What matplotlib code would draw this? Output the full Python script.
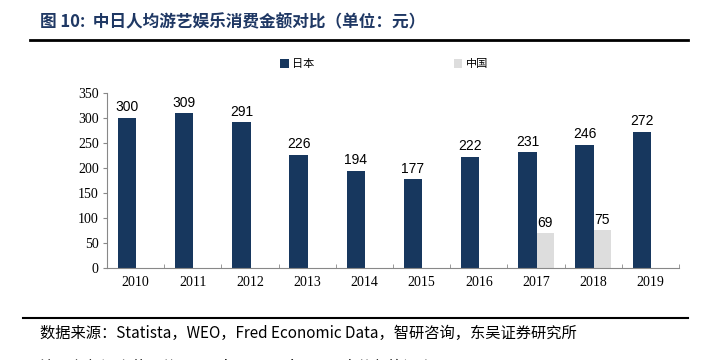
import matplotlib
matplotlib.use("Agg")
import matplotlib.pyplot as plt
import numpy as np

plt.rcParams['font.family'] = ['Noto Sans CJK SC', 'DejaVu Sans']

years = ['2010', '2011', '2012', '2013', '2014', '2015', '2016', '2017', '2018', '2019']
japan = [300, 309, 291, 226, 194, 177, 222, 231, 246, 272]
china = [None, None, None, None, None, None, None, 69, 75, None]

JAPAN_COLOR = '#17375E'
CHINA_COLOR = '#DDDDDD'

fig = plt.figure(figsize=(7.01, 3.6), dpi=100)
ax = fig.add_axes([0.1526, 0.2556, 0.8160, 0.4861])

x = np.arange(len(years))
w = 0.32
ax.bar(x - 0.15, japan, width=w, color=JAPAN_COLOR, label='日本', zorder=2)
cx = [xi for xi, v in zip(x, china) if v is not None]
cv = [v for v in china if v is not None]
ax.bar(np.array(cx) + 0.15, cv, width=w, color=CHINA_COLOR, label='中国', zorder=1)

for xi, v in zip(x, japan):
    ax.text(xi - 0.15, v + 7, str(v), ha='center', va='bottom', fontsize=10,
            family='Liberation Sans', color='black')
for xi, v in zip(cx, cv):
    ax.text(xi + 0.15, v + 7, str(v), ha='center', va='bottom', fontsize=10,
            family='Liberation Sans', color='black')

ax.set_xlim(-0.5, len(years) - 0.5)
ax.set_ylim(0, 350)
ax.set_yticks(range(0, 351, 50))
ax.set_xticks(x)
ax.set_xticklabels(years, family='Liberation Serif', fontsize=10)
for lbl in ax.get_yticklabels():
    lbl.set_family('Liberation Serif')
    lbl.set_fontsize(10)
ax.set_xticks(np.arange(-0.5, len(years)), minor=True)
ax.tick_params(axis='x', which='major', length=0, pad=6)
ax.tick_params(axis='x', which='minor', length=3, direction='in', color='#888888')
ax.tick_params(axis='y', length=3, direction='out', color='#888888', pad=3)

for s in ['top', 'right']:
    ax.spines[s].set_visible(False)
ax.spines['left'].set_color('#888888')
ax.spines['bottom'].set_color('#888888')

leg = fig.legend(loc='center', bbox_to_anchor=(0.548, 0.822), ncol=2, frameon=False,
                 fontsize=8, handlelength=0.8, handleheight=0.8, columnspacing=12.5,
                 handletextpad=0.3)

fig.text(0.057, 0.937, '图 10:  中日人均游艺娱乐消费金额对比（单位：元）', fontsize=12,
         fontweight='bold', color='#1F3864', va='center', ha='left')
fig.add_artist(plt.Line2D([0.043, 0.982], [0.889, 0.889], color='black', lw=2))
fig.add_artist(plt.Line2D([0.033, 0.982], [0.117, 0.117], color='black', lw=1.5))
fig.text(0.057, 0.075, '数据来源：Statista，WEO，Fred Economic Data，智研咨询，东吴证券研究所',
         fontsize=11, va='center', ha='left', color='black')
fig.text(0.057, -0.02, '注：各年汇率使用的是 Fred Economic Data 中的年均汇率',
         fontsize=11, va='center', ha='left', color='black')

fig.savefig('out.png', dpi=100)
